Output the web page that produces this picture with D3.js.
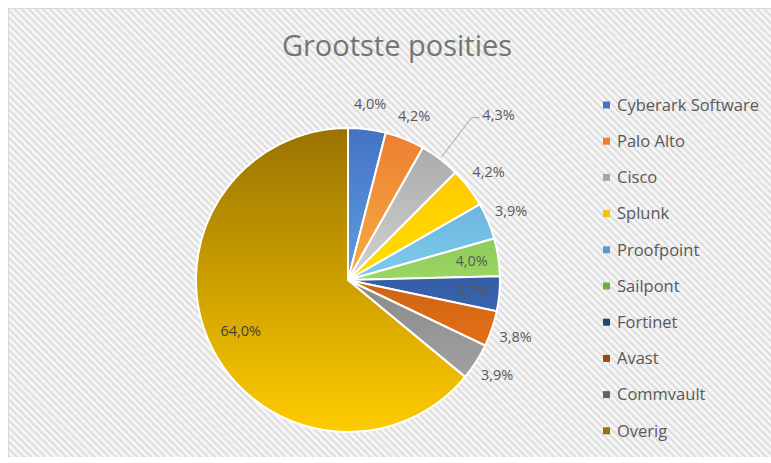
<!DOCTYPE html>
<html>
<head>
<meta charset="utf-8">
<script src="https://cdn.jsdelivr.net/npm/d3@7"></script>
<style>
  body { margin: 0; background: #fff; }
  text { font-family: "Open Sans", Lato, sans-serif; }
</style>
</head>
<body>
<div id="vis"></div>
<script>
// data
const names = ['Cyberark Software', 'Palo Alto', 'Cisco', 'Splunk', 'Proofpoint',
  'Sailpont', 'Fortinet', 'Avast', 'Commvault', 'Overig']
const values = [4.0, 4.2, 4.3, 4.2, 3.9, 4.0, 3.7, 3.8, 3.9, 64.0]
const labels = ['4,0%', '4,2%', '4,3%', '4,2%', '3,9%', '4,0%', '3,7%', '3,8%', '3,9%', '64,0%']

// office palette
const colors = ['#4472C4', '#ED7D31', '#A5A5A5', '#FFC000', '#5B9BD5',
  '#70AD47', '#264478', '#9E480E', '#636363', '#997300']
// where excel put each data label
const labelMode = ['out', 'out', 'leader', 'out', 'out', 'in', 'in', 'out', 'out', 'center']

const width = 771
const height = 463
const cx = 348
const cy = 280
const radius = 152

const svg = d3.select('#vis').append('svg')
  .attr('width', width)
  .attr('height', height)

const defs = svg.append('defs')

// diagonal hatch background
const pat = defs.append('pattern')
  .attr('id', 'hatch')
  .attr('patternUnits', 'userSpaceOnUse')
  .attr('width', 5).attr('height', 5)
  .attr('patternTransform', 'rotate(45)')
pat.append('rect').attr('width', 5).attr('height', 5).attr('fill', '#f8f8f8')
pat.append('rect').attr('y', 0).attr('width', 5).attr('height', 2.3).attr('fill', '#dedede')

svg.append('rect')
  .attr('x', 8).attr('y', 8)
  .attr('width', width - 8).attr('height', height - 14)
  .attr('fill', 'url(#hatch)')
svg.append('line').attr('x1', 8.5).attr('x2', 8.5).attr('y1', 8).attr('y2', height - 6)
  .attr('stroke', '#d9d9d9')
svg.append('line').attr('x1', 8).attr('x2', width).attr('y1', 8.5).attr('y2', 8.5)
  .attr('stroke', '#d9d9d9')

// title
svg.append('text')
  .attr('x', 397).attr('y', 56)
  .attr('text-anchor', 'middle')
  .attr('font-size', 29)
  .attr('fill', '#757575')
  .text('Grootste posities')

// gradients, base colour on top and light at the bottom of the pie
// (paths sit in the translated group, so the pie runs from -radius to radius)
colors.forEach((c, i) => {
  const grad = defs.append('linearGradient')
    .attr('id', 'g' + i)
    .attr('gradientUnits', 'userSpaceOnUse')
    .attr('x1', 0).attr('x2', 0)
    .attr('y1', -radius).attr('y2', radius)
  grad.append('stop').attr('offset', 0).attr('stop-color', c)
  grad.append('stop').attr('offset', 1).attr('stop-color', d3.color(c).brighter(1.6).formatHex())
})

const data = names.map((n, i) => ({ name: n, value: values[i], label: labels[i], i: i }))

const pie = d3.pie().sort(null).value(d => d.value)
const arc = d3.arc().innerRadius(0).outerRadius(radius)

const g = svg.append('g').attr('transform', `translate(${cx}, ${cy})`)

const arcs = pie(data)

g.selectAll('path')
  .data(arcs)
  .enter()
  .append('path')
  .attr('d', arc)
  .attr('fill', d => `url(#g${d.data.i})`)
  .attr('stroke', '#fff')
  .attr('stroke-width', 2)

// label positions from the slice angles
function polar(a, r) {
  return [Math.sin(a) * r, -Math.cos(a) * r]
}

const labelG = g.append('g')
arcs.forEach(d => {
  const mid = (d.startAngle + d.endAngle) / 2
  const mode = labelMode[d.data.i]
  let p
  if (mode === 'out') p = polar(mid, radius + 25)
  else if (mode === 'in') p = polar(mid, radius - 27)
  else if (mode === 'center') p = polar(mid, radius * 0.78)
  else {
    // leader line
    const a = polar(mid, radius + 2)
    const b = polar(mid, radius + 52)
    labelG.append('polyline')
      .attr('points', [a, b, [b[0] + 8, b[1]]].map(q => q.join(',')).join(' '))
      .attr('fill', 'none')
      .attr('stroke', '#a6a6a6')
      .attr('stroke-width', 1)
    p = [b[0] + 27, b[1] - 3]
  }
  labelG.append('text')
    .attr('x', p[0]).attr('y', p[1])
    .attr('dy', '0.35em')
    .attr('text-anchor', 'middle')
    .attr('font-size', 14.5)
    .attr('fill', mode === 'center' ? '#404040' : '#595959')
    .text(d.data.label)
})

// legend
const legend = svg.append('g').attr('transform', 'translate(603, 105)')
const rows = legend.selectAll('g')
  .data(data)
  .enter()
  .append('g')
  .attr('transform', (d, i) => `translate(0, ${i * 36.2})`)
rows.append('rect')
  .attr('x', 0).attr('y', -3.5)
  .attr('width', 7).attr('height', 7)
  .attr('fill', d => colors[d.i])
rows.append('text')
  .attr('x', 14).attr('y', 0)
  .attr('dy', '0.35em')
  .attr('font-size', 16.5)
  .attr('fill', '#595959')
  .text(d => d.name)
</script>
</body>
</html>
